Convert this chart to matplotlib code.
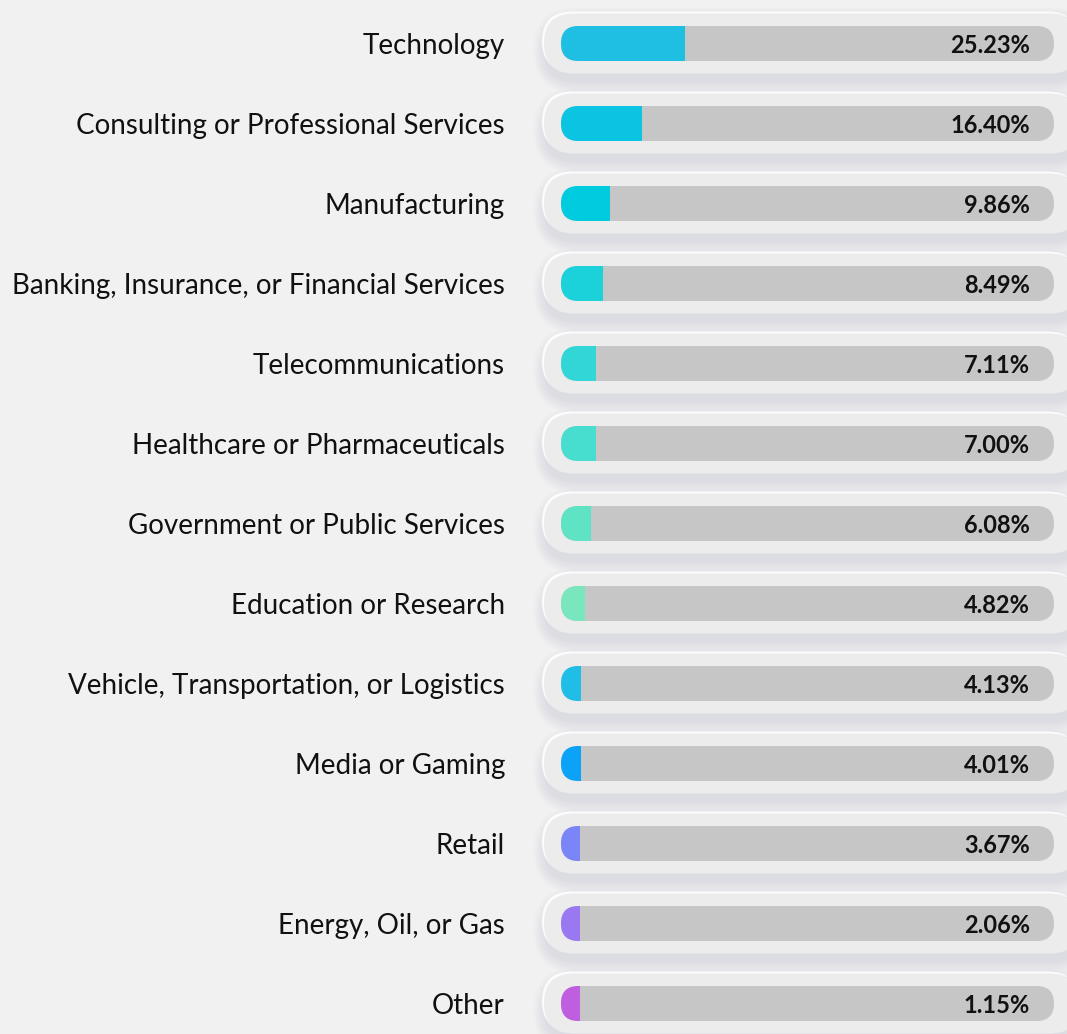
import matplotlib.pyplot as plt
from matplotlib.patches import FancyBboxPatch

categories = [
    "Technology",
    "Consulting or Professional Services",
    "Manufacturing",
    "Banking, Insurance, or Financial Services",
    "Telecommunications",
    "Healthcare or Pharmaceuticals",
    "Government or Public Services",
    "Education or Research",
    "Vehicle, Transportation, or Logistics",
    "Media or Gaming",
    "Retail",
    "Energy, Oil, or Gas",
    "Other",
]
values = [25.23, 16.40, 9.86, 8.49, 7.11, 7.00, 6.08, 4.82, 4.13, 4.01, 3.67, 2.06, 1.15]
colors = [
    "#1fbfe4", "#0bc4e2", "#00cbdf", "#1bd1da", "#33d6d6", "#47ddcf", "#5ee3c5",
    "#7ae6be", "#20bee6", "#0ba2f7", "#7a85f7", "#9a78f2", "#c05ee0",
]

W, H = 1067, 1034
bg = "#f1f1f1"

# pixel layout: track 0..100 runs from x=561 to x=1054, rows every 80 px from y=43
x0, sx = 561, (1054 - 561) / 100.0
y0, sy = 43.5, 80.0


def px(x):
    return (x - x0) / sx


fig = plt.figure(figsize=(W / 100, H / 100), dpi=100, facecolor=bg)
ax = fig.add_axes([0, 0, 1, 1])
ax.set_facecolor(bg)
ax.set_xlim(px(0), px(W))
ax.set_ylim((H - y0) / sy, -y0 / sy)
ax.axis("off")

asp = (1 / sy) / (1 / sx)   # y units per x unit at equal pixels


def pill(x, y, w, h, color, z, alpha=1.0):
    # x, w in x units; y (center), h in y units
    p = FancyBboxPatch((x, y - h / 2), w, h,
                       boxstyle=f"round,pad=0,rounding_size={h / asp / 2}",
                       mutation_aspect=asp, fc=color, ec="none", alpha=alpha, zorder=z)
    ax.add_patch(p)
    return p


for i, (cat, v, c) in enumerate(zip(categories, values, colors)):
    # outer raised pill (neumorphic)
    ox, ow, oh = px(544), px(1080) - px(544), 60 / sy
    for k in range(7):
        g = (7 - k) * 1.8 / sx
        pill(ox - g + 2 / sx, i + 7 / sy, ow + 2 * g, oh + 2 * g * asp, "#9aa0b4", 1, alpha=0.03)
    pill(ox - 2 / sx, i - 2 / sy, ow, oh, "#ffffff", 2, alpha=0.9)
    pill(ox, i, ow, oh, "#ececec", 3)

    # track
    th = 35 / sy
    track = pill(0, i, 100, th, "#c6c6c6", 4)

    # fill, left end rounded by clipping to the track
    bar = ax.barh(i, max(v, px(580)), left=0, height=th, color=c, zorder=5)
    for b in bar:
        b.set_clip_path(track)

    ax.text(px(505), i, cat, ha="right", va="center_baseline", fontsize=20,
            family="Lato", color="#111111", zorder=6)
    ax.text(px(1030), i, f"{v:.2f}%", ha="right", va="center_baseline", fontsize=17,
            family="Lato", weight="bold", color="#111111", zorder=6)

fig.savefig("out.png", dpi=100, facecolor=bg)
